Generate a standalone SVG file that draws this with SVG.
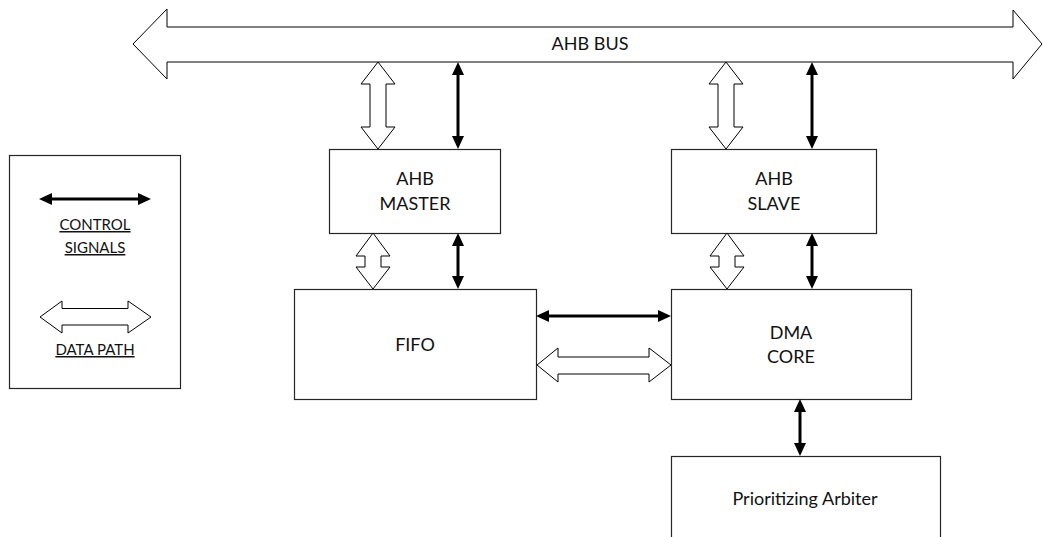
<svg xmlns="http://www.w3.org/2000/svg" width="1043" height="537" viewBox="0 0 1043 537">
<style>
.box{fill:#fff;stroke:#262626;stroke-width:1.2}
.blk{fill:#fff;stroke:#000;stroke-width:1}
.ctl{stroke:#000;stroke-width:3;fill:none;marker-start:url(#ah);marker-end:url(#ah)}
.t{font-family:Lato,"Open Sans",sans-serif;font-size:18px;fill:#111;text-anchor:middle}
.lt{font-family:Lato,"Open Sans",sans-serif;font-size:15px;fill:#111;text-anchor:middle;text-decoration:underline}
</style>
<defs>
<marker id="ah" viewBox="0 0 13 12" refX="5" refY="6" markerWidth="13" markerHeight="12" markerUnits="userSpaceOnUse" orient="auto-start-reverse">
<path d="M0,0 L13,6 L0,12 Z" fill="#000"/>
</marker>
</defs>
<rect width="1043" height="537" fill="#fff"/>

<g id="ahb-bus">
<polygon class="blk" points="133,44 167,9 167,27 1013,27 1013,10 1042,44 1013,79 1013,62 167,62 167,79"/>
<text class="t" x="590" y="50">AHB BUS</text>
</g>

<g id="legend">
<rect class="box" x="9.5" y="155.5" width="171" height="233"/>
<line class="ctl" x1="47" y1="199" x2="143" y2="199"/>
<text class="lt" x="95" y="230">CONTROL</text>
<text class="lt" x="95" y="253">SIGNALS</text>
<polygon class="blk" points="40,317 62,301 62,308.5 128,308.5 128,301 151,317 128,333 128,325 62,325 62,333"/>
<text class="lt" x="95" y="355">DATA PATH</text>
</g>

<g id="ahb-master">
<rect class="box" x="329.5" y="149.5" width="171" height="84"/>
<text class="t" x="415" y="185">AHB</text>
<text class="t" x="415" y="210">MASTER</text>
</g>

<g id="ahb-slave">
<rect class="box" x="671.5" y="149.5" width="205" height="84"/>
<text class="t" x="774" y="185">AHB</text>
<text class="t" x="774" y="210">SLAVE</text>
</g>

<g id="fifo">
<rect class="box" x="294.5" y="289.5" width="242" height="110"/>
<text class="t" x="415" y="351">FIFO</text>
</g>

<g id="dma-core">
<rect class="box" x="671.5" y="289.5" width="240" height="110"/>
<text class="t" x="791" y="339">DMA</text>
<text class="t" x="791" y="363">CORE</text>
</g>

<g id="arbiter">
<rect class="box" x="671.5" y="456.5" width="269" height="110"/>
<text class="t" x="805" y="505">Prioritizing Arbiter</text>
</g>

<g id="connectors">
<!-- bus to master -->
<polygon class="blk" points="378,62 395,84 386,84 386,127 395,127 378,149 361,127 370,127 370,84 361,84"/>
<line class="ctl" x1="458" y1="70" x2="458" y2="141"/>
<!-- bus to slave -->
<polygon class="blk" points="726,62 743,84 734,84 734,127 743,127 726,149 709,127 718,127 718,84 709,84"/>
<line class="ctl" x1="812" y1="70" x2="812" y2="141"/>
<!-- master to fifo -->
<polygon class="blk" points="373,233 390,256 381,256 381,267 390,267 373,289 356,267 365,267 365,256 356,256"/>
<line class="ctl" x1="458" y1="241" x2="458" y2="281"/>
<!-- slave to dma -->
<polygon class="blk" points="727,233 744,256 735,256 735,267 744,267 727,289 710,267 719,267 719,256 710,256"/>
<line class="ctl" x1="812" y1="241" x2="812" y2="281"/>
<!-- fifo to dma -->
<line class="ctl" x1="544" y1="316" x2="663" y2="316"/>
<polygon class="blk" points="537,365 558,348 558,357 649,357 649,348 671,365 649,382 649,374 558,374 558,382"/>
<!-- dma to arbiter -->
<line class="ctl" x1="800" y1="407" x2="800" y2="448"/>
</g>
</svg>
